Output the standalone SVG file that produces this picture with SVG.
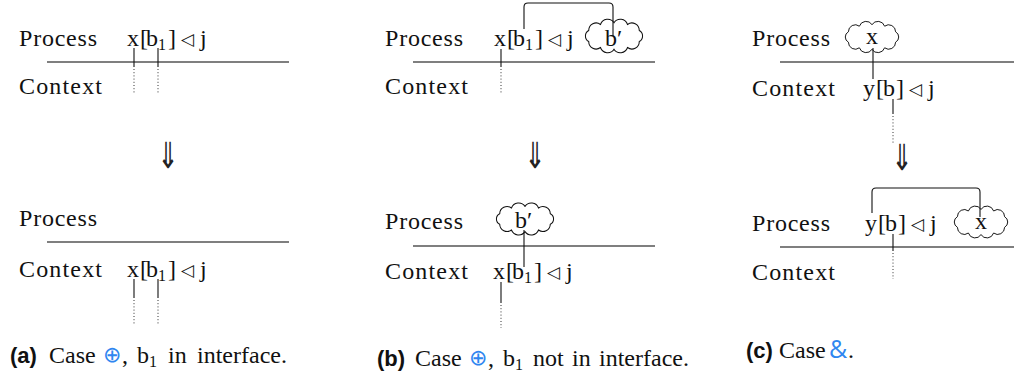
<svg xmlns="http://www.w3.org/2000/svg" width="1014" height="378" viewBox="0 0 1014 378">
<style>
.t{font-family:"Liberation Serif","DejaVu Serif",serif;font-size:24px;fill:#111}
.sub{font-size:16px}
.tri{font-family:"DejaVu Sans",sans-serif;font-size:17px}
.arr{font-family:"DejaVu Sans",sans-serif;font-size:24px;text-anchor:middle;fill:#222}
.lab{font-family:"Liberation Sans","Open Sans",sans-serif;font-weight:bold;font-size:22px;fill:#111}
.blue{fill:#2f86f0}
.op{font-family:"DejaVu Sans",sans-serif;font-size:22px}
.amp{font-family:"Open Sans","Liberation Sans",sans-serif;font-size:25px}
.sep{stroke:#555;stroke-width:1.3;fill:none}
.ln{stroke:#111;stroke-width:1.1;fill:none}
.dot{stroke:#333;stroke-width:1;stroke-dasharray:1 2.2;fill:none}
.cl{fill:#fff;stroke:#111;stroke-width:0.95}
</style>
<defs>
<path id="cloud" d="M0,-12 A7.13,7.13 0 0 1 12.64,-10.49 A6.87,6.87 0 0 1 23.62,-5.01 A5.61,5.61 0 0 1 23.62,5.01 A6.87,6.87 0 0 1 12.64,10.49 A7.13,7.13 0 0 1 0,12 A7.13,7.13 0 0 1 -12.64,10.49 A6.87,6.87 0 0 1 -23.62,5.01 A5.61,5.61 0 0 1 -23.62,-5.01 A6.87,6.87 0 0 1 -12.64,-10.49 A7.13,7.13 0 0 1 0,-12 Z"/>
</defs>

<!-- separators and connectors -->
<g id="connectors">
  <line class="sep" x1="47" y1="62" x2="289" y2="62"/>
  <line class="sep" x1="47" y1="242" x2="289" y2="242"/>
  <line class="sep" x1="413" y1="62" x2="655" y2="62"/>
  <line class="sep" x1="413" y1="246" x2="655" y2="246"/>
  <line class="sep" x1="780" y1="62" x2="1014" y2="62"/>
  <line class="sep" x1="780" y1="247" x2="1014" y2="247"/>
  <!-- (a) top -->
  <line class="ln" x1="134" y1="48" x2="134" y2="67"/>
  <line class="dot" x1="134" y1="69" x2="134" y2="94"/>
  <line class="ln" x1="158" y1="48" x2="158" y2="67"/>
  <line class="dot" x1="158" y1="69" x2="158" y2="94"/>
  <!-- (a) bottom -->
  <line class="ln" x1="134" y1="279" x2="134" y2="298"/>
  <line class="dot" x1="134" y1="300" x2="134" y2="325"/>
  <line class="ln" x1="158" y1="279" x2="158" y2="298"/>
  <line class="dot" x1="158" y1="300" x2="158" y2="325"/>
  <!-- (b) top -->
  <line class="ln" x1="501" y1="49" x2="501" y2="67"/>
  <line class="dot" x1="501" y1="69" x2="501" y2="94"/>
  <!-- (b) bottom -->
  <line class="ln" x1="501" y1="282" x2="501" y2="303"/>
  <line class="dot" x1="501" y1="305" x2="501" y2="328"/>
  <!-- (c) top -->
  <line class="ln" x1="893" y1="99" x2="893" y2="114"/>
  <line class="dot" x1="893" y1="116" x2="893" y2="143"/>
  <!-- (c) bottom -->
  <line class="ln" x1="893" y1="234" x2="893" y2="251"/>
  <line class="dot" x1="893" y1="253" x2="893" y2="279"/>
</g>

<!-- panel (a) -->
<g id="a-top-process"><text class="t" x="19" y="46" textLength="78">Process</text></g>
<g id="a-top-context"><text class="t" x="19" y="94" textLength="83">Context</text></g>
<g id="a-top-term"><text class="t"><tspan x="127" y="46">x</tspan><tspan x="140" y="46">[</tspan><tspan x="146" y="46">b</tspan><tspan class="sub" x="158" y="50">1</tspan><tspan x="168" y="46">]</tspan><tspan class="tri" x="181" y="45">◁</tspan><tspan x="200" y="46">j</tspan></text></g>
<g id="a-arrow"><text class="arr" transform="translate(168,168) scale(1.05,1.5)">⇓</text></g>
<g id="a-bot-process"><text class="t" x="19" y="226" textLength="78">Process</text></g>
<g id="a-bot-context"><text class="t" x="19" y="277" textLength="83">Context</text></g>
<g id="a-bot-term"><text class="t"><tspan x="127" y="277">x</tspan><tspan x="140" y="277">[</tspan><tspan x="146" y="277">b</tspan><tspan class="sub" x="158" y="281">1</tspan><tspan x="168" y="277">]</tspan><tspan class="tri" x="181" y="276">◁</tspan><tspan x="200" y="277">j</tspan></text></g>
<g id="a-caption"><text class="lab" x="10" y="363">(a)</text><text class="t"><tspan x="49" y="363">Case</tspan><tspan class="op blue" x="103" y="362">⊕</tspan><tspan x="122" y="363">,</tspan><tspan x="137" y="363">b</tspan><tspan class="sub" x="149" y="367">1</tspan><tspan x="168" y="363">in</tspan><tspan x="197" y="363">interface.</tspan></text></g>

<!-- panel (b) -->
<g id="b-top-process"><text class="t" x="385" y="46" textLength="78">Process</text></g>
<g id="b-top-context"><text class="t" x="385" y="94" textLength="83">Context</text></g>
<g id="b-top-term"><text class="t"><tspan x="494" y="46">x</tspan><tspan x="507" y="46">[</tspan><tspan x="513" y="46">b</tspan><tspan class="sub" x="525" y="50">1</tspan><tspan x="535" y="46">]</tspan><tspan class="tri" x="548" y="45">◁</tspan><tspan x="567" y="46">j</tspan></text></g>
<g id="b-top-cloud"><use href="#cloud" class="cl" transform="translate(614,36) scale(1.07,1.1)"/><text class="t" x="605" y="46">b′</text></g>
<g id="b-top-link"><path class="ln" d="M524,29 V7 Q524,3 528,3 H609 Q613,3 613,7 V36"/></g>
<g id="b-arrow"><text class="arr" transform="translate(535,168) scale(1.05,1.5)">⇓</text></g>
<g id="b-bot-process"><text class="t" x="385" y="229" textLength="78">Process</text></g>
<g id="b-bot-context"><text class="t" x="385" y="279" textLength="83">Context</text></g>
<g id="b-bot-cloud"><use href="#cloud" class="cl" transform="translate(525,219) scale(1.07,1.05)"/><text class="t" x="515" y="228">b′</text></g>
<g id="b-bot-link"><line class="ln" x1="524" y1="230" x2="524" y2="267"/></g>
<g id="b-bot-term"><text class="t"><tspan x="493" y="279">x</tspan><tspan x="506" y="279">[</tspan><tspan x="512" y="279">b</tspan><tspan class="sub" x="524" y="283">1</tspan><tspan x="534" y="279">]</tspan><tspan class="tri" x="547" y="278">◁</tspan><tspan x="566" y="279">j</tspan></text></g>
<g id="b-caption"><text class="lab" x="377" y="366">(b)</text><text class="t"><tspan x="415" y="366">Case</tspan><tspan class="op blue" x="469" y="365">⊕</tspan><tspan x="488" y="366">,</tspan><tspan x="503" y="366">b</tspan><tspan class="sub" x="515" y="370">1</tspan><tspan x="533" y="366">not</tspan><tspan x="572" y="366">in</tspan><tspan x="599" y="366">interface.</tspan></text></g>

<!-- panel (c) -->
<g id="c-top-process"><text class="t" x="752" y="46" textLength="78">Process</text></g>
<g id="c-top-cloud"><use href="#cloud" class="cl" transform="translate(872,37) scale(1.0,1.03)"/><text class="t" x="872" y="44" text-anchor="middle">x</text></g>
<g id="c-top-link"><line class="ln" x1="873" y1="48" x2="873" y2="79"/></g>
<g id="c-top-context"><text class="t" x="752" y="96" textLength="83">Context</text></g>
<g id="c-top-term"><text class="t"><tspan x="863" y="96">y</tspan><tspan x="876" y="96">[</tspan><tspan x="883" y="96">b</tspan><tspan x="896" y="96">]</tspan><tspan class="tri" x="909" y="95">◁</tspan><tspan x="928" y="96">j</tspan></text></g>
<g id="c-arrow"><text class="arr" transform="translate(902,170) scale(1.05,1.5)">⇓</text></g>
<g id="c-bot-process"><text class="t" x="752" y="231" textLength="78">Process</text></g>
<g id="c-bot-term"><text class="t"><tspan x="865" y="231">y</tspan><tspan x="878" y="231">[</tspan><tspan x="885" y="231">b</tspan><tspan x="898" y="231">]</tspan><tspan class="tri" x="911" y="230">◁</tspan><tspan x="930" y="231">j</tspan></text></g>
<g id="c-bot-cloud"><use href="#cloud" class="cl" transform="translate(981,222) scale(1.0,1.05)"/><text class="t" x="981" y="229" text-anchor="middle">x</text></g>
<g id="c-bot-link"><path class="ln" d="M872,213 V192 Q872,188 876,188 H976 Q980,188 980,192 V217"/></g>
<g id="c-bot-context"><text class="t" x="752" y="280" textLength="83">Context</text></g>
<g id="c-caption"><text class="lab" x="746" y="358">(c)</text><text class="t"><tspan x="779" y="358">Case</tspan><tspan class="amp blue" x="829" y="358">&amp;</tspan><tspan x="848" y="358">.</tspan></text></g>
</svg>
